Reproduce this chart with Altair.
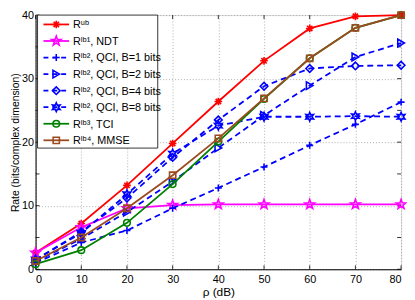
import math
import altair as alt
import pandas as pd

rho = [0, 10, 20, 30, 40, 50, 60, 70, 80]

r_ub   = [2.6, 7.2, 13.2, 19.8, 26.4, 32.8, 37.9, 39.8, 40.0]
r_ndt  = [2.6, 6.6, 9.6, 10.1, 10.2, 10.2, 10.2, 10.2, 10.2]
r_b1   = [1.0, 4.2, 6.1, 9.6, 12.8, 16.1, 19.5, 22.8, 26.3]
r_b2   = [1.2, 4.8, 9.0, 13.8, 19.1, 24.2, 28.9, 33.4, 35.6]
r_b4   = [1.5, 5.9, 11.2, 17.6, 23.5, 28.8, 31.6, 32.0, 32.1]
r_b8   = [1.5, 5.7, 11.8, 18.2, 22.6, 24.0, 24.0, 24.1, 24.0]
r_tci  = [0.8, 3.0, 7.3, 13.4, 20.1, 26.8, 33.2, 38.0, 40.0]
r_mmse = [1.3, 5.0, 9.6, 14.8, 20.6, 26.9, 33.2, 38.0, 40.0]

labels = [
    "R\u1d58\u1d47",
    "R\u02e1\u1d47\u00b9, NDT",
    "R\u02e1\u1d47\u00b2, QCI, B=1 bits",
    "R\u02e1\u1d47\u00b2, QCI, B=2 bits",
    "R\u02e1\u1d47\u00b2, QCI, B=4 bits",
    "R\u02e1\u1d47\u00b2, QCI, B=8 bits",
    "R\u02e1\u1d47\u00b3, TCI",
    "R\u02e1\u1d47\u2074, MMSE",
]

x_ticks = [0, 10, 20, 30, 40, 50, 60, 70, 80]
y_ticks = [0, 5, 10, 15, 20, 25, 30, 35, 40]

# marker shapes (unit-square SVG paths)
asterisk = "M0,-1V1M-1,0H1M-0.7,-0.7L0.7,0.7M-0.7,0.7L0.7,-0.7"
plus = "M0,-1V1M-1,0H1"
pts = []
for k in range(12):
    r = 1.0 if k % 2 == 0 else 0.5
    a = -math.pi / 2 + k * math.pi / 6
    pts.append(f"{r*math.cos(a):.3f},{r*math.sin(a):.3f}")
hexagram = "M" + "L".join(pts) + "Z"
pts5 = []
for k in range(10):
    r = 1.0 if k % 2 == 0 else 0.4
    a = -math.pi / 2 + k * math.pi / 5
    pts5.append(f"{r*math.cos(a):.3f},{r*math.sin(a):.3f}")
pentagram = "M" + "L".join(pts5) + "Z"

RED = "#ff0000"
MAG = "#ff00ff"
BLUE = "#0000ff"
GREEN = "#008000"
BROWN = "#9c4a1e"

series = [
    (r_ub, RED, [], asterisk, 60),
    (r_ndt, MAG, [], pentagram, 100),
    (r_b1, BLUE, [6, 4], plus, 50),
    (r_b2, BLUE, [6, 4], "triangle-right", 60),
    (r_b4, BLUE, [6, 4], "diamond", 60),
    (r_b8, BLUE, [6, 4], hexagram, 80),
    (r_tci, GREEN, [], "circle", 45),
    (r_mmse, BROWN, [], "square", 40),
]

W, H = 371, 258

xs = alt.Scale(domain=[0, 80], nice=False, zero=False)
ys = alt.Scale(domain=[0, 40], nice=False, zero=False)


def px2x(p):
    return p * 80.0 / W


def py2y(p):
    return 40.0 - p * 40.0 / H


layers = []

# base with grid and axes
base_df = pd.DataFrame({"rho": [0, 80], "rate": [0, 40]})
base = alt.Chart(base_df).mark_point(opacity=0).encode(
    x=alt.X("rho:Q", scale=xs,
            axis=alt.Axis(values=x_ticks, title="\u03c1 (dB)", grid=True,
                          gridDash=[1, 2], gridColor="#9a9a9a", gridWidth=0.8,
                          ticks=False, labelPadding=4, titlePadding=3,
                          domainColor="black", labelColor="black",
                          labelFont="Liberation Sans", labelFontSize=11,
                          titleFont="Liberation Sans", titleFontSize=12,
                          titleFontWeight="normal", titleColor="black")),
    y=alt.Y("rate:Q", scale=ys,
            axis=alt.Axis(values=y_ticks, title="Rate (bits/complex dimension)",
                          grid=True, gridDash=[1, 2], gridColor="#9a9a9a",
                          gridWidth=0.8, ticks=False, labelPadding=2,
                          titlePadding=1, domainColor="black",
                          labelColor="black", labelFont="Liberation Sans",
                          labelFontSize=11, titleFont="Liberation Sans",
                          titleFontSize=10.5, titleFontWeight="normal",
                          titleColor="black")),
)
layers.append(base)

# inward ticks
xt = pd.DataFrame({"rho": x_ticks})
yt = pd.DataFrame({"rate": y_ticks})
for y0, y1 in [(H, H - 4), (0, 4)]:
    layers.append(alt.Chart(xt).mark_rule(color="black", strokeWidth=0.8).encode(
        x=alt.X("rho:Q", scale=xs), y=alt.value(y0), y2=alt.value(y1)))
for x0, x1 in [(0, 4), (W, W - 4)]:
    layers.append(alt.Chart(yt).mark_rule(color="black", strokeWidth=0.8).encode(
        y=alt.Y("rate:Q", scale=ys), x=alt.value(x0), x2=alt.value(x1)))

for vals, col, dash, shp, sz in series:
    df = pd.DataFrame({"rho": rho, "rate": vals})
    lk = dict(color=col, strokeWidth=1.8)
    if dash:
        lk["strokeDash"] = dash
    layers.append(alt.Chart(df).mark_line(**lk).encode(
        x=alt.X("rho:Q", scale=xs), y=alt.Y("rate:Q", scale=ys)))
    layers.append(alt.Chart(df).mark_point(
        shape=shp, size=sz, filled=False, color=col, strokeWidth=1.6, opacity=1
    ).encode(x=alt.X("rho:Q", scale=xs), y=alt.Y("rate:Q", scale=ys)))

# manual legend (positions converted into data units)
box_df = pd.DataFrame({"rho": [px2x(2)], "rho2": [px2x(124)],
                       "rate": [py2y(0)], "rate2": [py2y(135)]})
layers.append(alt.Chart(box_df).mark_rect(fill="white", stroke="black",
                                          strokeWidth=0.8).encode(
    x=alt.X("rho:Q", scale=xs), x2="rho2:Q",
    y=alt.Y("rate:Q", scale=ys), y2="rate2:Q"))

for i, (vals, col, dash, shp, sz) in enumerate(series):
    py = 9.5 + 16.8 * i
    ldf = pd.DataFrame({"rho": [px2x(8)], "rho2": [px2x(34)],
                        "rhom": [px2x(21)], "rhot": [px2x(38)],
                        "rate": [py2y(py)], "lab": [labels[i]]})
    lk = dict(color=col, strokeWidth=1.8)
    if dash:
        lk["strokeDash"] = [5, 4]
    layers.append(alt.Chart(ldf).mark_rule(**lk).encode(
        x=alt.X("rho:Q", scale=xs), x2="rho2:Q",
        y=alt.Y("rate:Q", scale=ys)))
    layers.append(alt.Chart(ldf).mark_point(
        shape=shp, size=sz, filled=False, color=col, strokeWidth=1.6, opacity=1
    ).encode(x=alt.X("rhom:Q", scale=xs), y=alt.Y("rate:Q", scale=ys)))
    layers.append(alt.Chart(ldf).mark_text(
        align="left", baseline="middle", font="Liberation Sans", fontSize=11,
        color="black", dy=1
    ).encode(x=alt.X("rhot:Q", scale=xs), y=alt.Y("rate:Q", scale=ys),
             text="lab:N"))

chart = alt.layer(*layers).properties(
    width=W, height=H,
    autosize=alt.AutoSizeParams(type="none"),
    padding={"left": 28, "top": 5, "right": 6, "bottom": 28},
).configure_view(stroke="black", strokeWidth=1).configure(background="white")

chart.save("out.html", embed_options={"renderer": "svg", "actions": False})
